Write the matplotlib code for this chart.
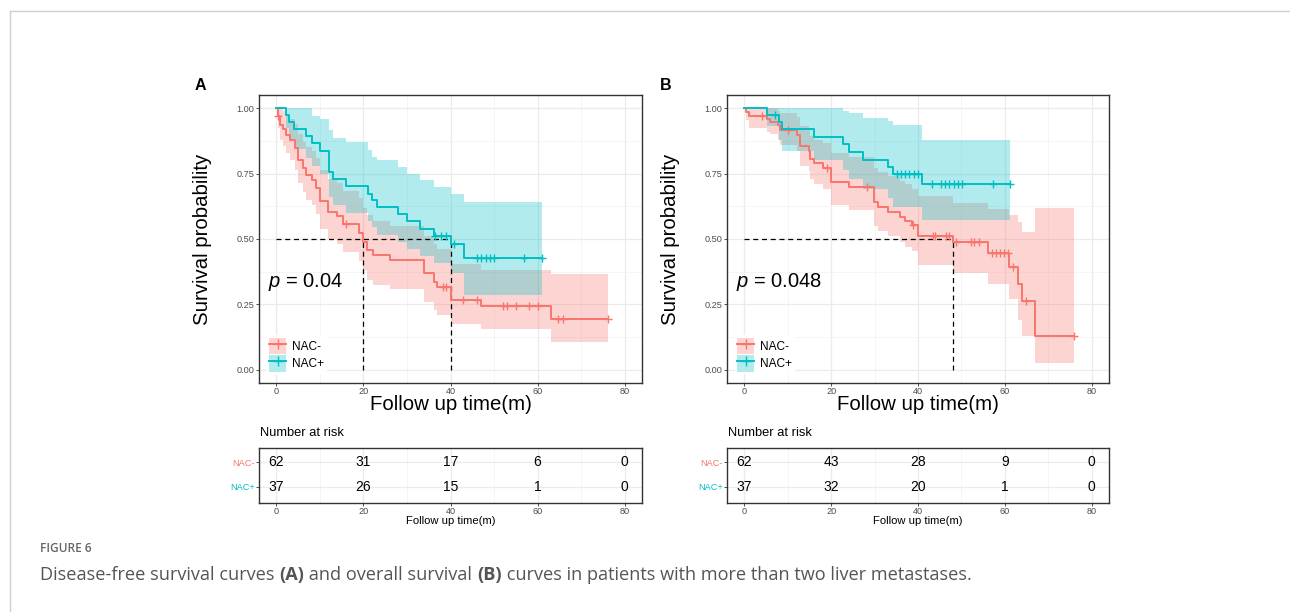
import numpy as np
import matplotlib
matplotlib.use('Agg')
import matplotlib.pyplot as plt
from matplotlib.patches import Patch
from matplotlib.lines import Line2D
from matplotlib.ticker import MultipleLocator

plt.rcParams['font.family'] = ['Liberation Sans', 'DejaVu Sans']
plt.rcParams['mathtext.fontset'] = 'custom'
plt.rcParams['mathtext.it'] = 'Liberation Sans:italic'
plt.rcParams['mathtext.rm'] = 'Liberation Sans'

RED = '#F8766D'
CYAN = '#00BFC4'

############################## panel A: disease-free survival ##############################

a_neg_t = [0, 0.3, 0.8, 1.5, 2.3, 3.1, 4.2, 5.0, 6.1, 6.9, 8.1, 9.2, 10.0, 11.9, 14.0, 15.4,
           19.0, 20.0, 20.7, 22.1, 26.0, 33.8, 36.1, 37.0, 40.0, 47.0, 63.0]
a_neg_s = [1.0, 0.968, 0.937, 0.919, 0.899, 0.878, 0.848, 0.803, 0.771, 0.746, 0.727, 0.695, 0.644,
           0.605, 0.586, 0.557, 0.522, 0.490, 0.457, 0.438, 0.419, 0.372, 0.336, 0.317, 0.268, 0.246, 0.195]
a_neg_lo = [1.0, 0.925, 0.88, 0.855, 0.83, 0.80, 0.765, 0.715, 0.68, 0.65, 0.63, 0.595, 0.54, 0.50,
            0.48, 0.45, 0.415, 0.38, 0.345, 0.325, 0.31, 0.26, 0.23, 0.21, 0.176, 0.157, 0.106]
a_neg_hi = [1.0, 1.0, 1.0, 0.99, 0.975, 0.96, 0.94, 0.90, 0.87, 0.85, 0.835, 0.81, 0.765, 0.73,
            0.715, 0.685, 0.655, 0.62, 0.59, 0.57, 0.55, 0.51, 0.48, 0.46, 0.405, 0.383, 0.368]
a_neg_cens = [0.4, 16.0, 38.3, 39.0, 42.9, 46.0, 52.0, 52.9, 55.1, 58.0, 60.0, 64.8, 65.8, 76.1]

a_pos_t = [0, 2.1, 3.0, 4.0, 6.9, 8.1, 10.0, 12.1, 13.0, 16.0, 21.1, 22.0, 23.0, 28.0, 30.1, 33.0,
           36.1, 40.1, 43.0]
a_pos_s = [1.0, 0.973, 0.946, 0.919, 0.892, 0.865, 0.838, 0.757, 0.730, 0.703, 0.673, 0.648, 0.621,
           0.594, 0.567, 0.540, 0.513, 0.481, 0.429]
a_pos_lo = [1.0, 0.923, 0.88, 0.845, 0.81, 0.78, 0.75, 0.66, 0.63, 0.60, 0.57, 0.545, 0.515, 0.49,
            0.46, 0.435, 0.41, 0.37, 0.287]
a_pos_hi = [1.0, 1.0, 1.0, 1.0, 1.0, 0.97, 0.96, 0.915, 0.885, 0.87, 0.84, 0.815, 0.80, 0.775,
            0.75, 0.725, 0.70, 0.672, 0.64]
a_pos_cens = [36.5, 37.8, 39.0, 40.8, 46.0, 47.0, 48.1, 49.1, 50.0, 57.0, 61.1]

a_medians = [20.0, 40.0]
a_pval = '0.04'
a_risk_neg = [62, 31, 17, 6, 0]
a_risk_pos = [37, 26, 15, 1, 0]

############################## panel B: overall survival ##############################

b_neg_t = [0, 0.3, 1.0, 5.1, 6.0, 7.7, 8.1, 12.1, 12.9, 14.8, 15.2, 16.0, 18.1, 19.9, 24.0, 29.8,
           30.9, 33.0, 35.9, 37.0, 38.6, 39.9, 48.1, 56.1, 61.0, 63.0, 63.9, 67.0]
b_neg_s = [1.0, 0.984, 0.968, 0.958, 0.948, 0.935, 0.917, 0.899, 0.854, 0.838, 0.806, 0.789, 0.770,
           0.719, 0.700, 0.642, 0.623, 0.604, 0.585, 0.569, 0.553, 0.511, 0.487, 0.448, 0.393, 0.327,
           0.263, 0.131]
b_neg_lo = [1.0, 0.955, 0.923, 0.91, 0.90, 0.88, 0.86, 0.835, 0.78, 0.76, 0.73, 0.71, 0.69, 0.63,
            0.61, 0.55, 0.53, 0.51, 0.49, 0.47, 0.455, 0.40, 0.37, 0.33, 0.27, 0.19, 0.13, 0.027]
b_neg_hi = [1.0, 1.0, 1.0, 1.0, 1.0, 0.99, 0.98, 0.965, 0.93, 0.915, 0.895, 0.88, 0.865, 0.83,
            0.815, 0.77, 0.755, 0.74, 0.72, 0.71, 0.69, 0.665, 0.638, 0.614, 0.591, 0.565, 0.527, 0.62]
b_neg_cens = [4.0, 10.0, 19.0, 28.2, 38.9, 43.4, 44.0, 46.5, 47.2, 48.8, 52.1, 53.0, 54.0, 57.1,
              58.0, 59.0, 59.9, 60.7, 62.0, 64.9, 76.0]

b_pos_t = [0, 5.1, 7.9, 8.7, 16.0, 22.8, 24.0, 27.3, 33.0, 34.3, 41.0]
b_pos_s = [1.0, 0.975, 0.946, 0.919, 0.889, 0.861, 0.834, 0.803, 0.774, 0.748, 0.709]
b_pos_lo = [1.0, 0.93, 0.88, 0.835, 0.80, 0.765, 0.73, 0.69, 0.655, 0.623, 0.572]
b_pos_hi = [1.0, 1.0, 1.0, 1.0, 1.0, 0.99, 0.983, 0.962, 0.95, 0.936, 0.879]
b_pos_cens = [7.0, 35.2, 36.1, 37.1, 38.0, 39.0, 39.9, 43.2, 45.2, 46.2, 47.2, 48.2, 49.2, 50.1,
              57.2, 61.1]

b_medians = [48.0]
b_pval = '0.048'
b_risk_neg = [62, 43, 28, 9, 0]
b_risk_pos = [37, 32, 20, 1, 0]

risk_times = [0, 20, 40, 60, 80]
groups = ['NAC-', 'NAC+']

caption_head = 'FIGURE 6'
caption_parts = [('Disease-free survival curves ', 'normal'), ('(A)', 'bold'),
                 (' and overall survival ', 'normal'), ('(B)', 'bold'),
                 (' curves in patients with more than two liver metastases.', 'normal')]


def style_axes(ax):
    ax.set_xlim(-4, 84)
    ax.xaxis.set_major_locator(MultipleLocator(20))
    ax.xaxis.set_minor_locator(MultipleLocator(10))
    ax.grid(which='major', color='#EBEBEB', lw=0.9, zorder=0)
    ax.grid(which='minor', color='#F2F2F2', lw=0.5, zorder=0)
    ax.set_axisbelow(True)
    for sp in ax.spines.values():
        sp.set_color('#333333')
        sp.set_linewidth(1.0)
    ax.tick_params(which='major', length=2.2, width=0.6, color='#333333', pad=1,
                   labelsize=6.6, labelcolor='#4D4D4D')
    ax.tick_params(which='minor', length=0)


def draw_km(ax, t, s, lo, hi, cens, color):
    end = max(cens[-1], t[-1])
    tt = np.append(t, end)
    ss = np.append(s, s[-1])
    ax.fill_between(tt, np.append(lo, lo[-1]), np.append(hi, hi[-1]), step='post',
                    color=color, alpha=0.3, lw=0, zorder=2)
    ax.step(tt, ss, where='post', color=color, lw=1.4, zorder=4)
    idx = np.searchsorted(t, cens, side='right') - 1
    ax.plot(cens, np.array(s)[idx], ls='none', marker='+', ms=6, mew=1.0, color=color, zorder=4)


def km_panel(ax, neg, pos, medians, pval):
    style_axes(ax)
    ax.set_ylim(-0.05, 1.05)
    ax.set_yticks([0, 0.25, 0.5, 0.75, 1.0])
    ax.set_yticklabels(['0.00', '0.25', '0.50', '0.75', '1.00'])
    ax.yaxis.set_minor_locator(MultipleLocator(0.125))
    draw_km(ax, *neg, RED)
    draw_km(ax, *pos, CYAN)
    ax.plot([0, max(medians)], [0.5, 0.5], color='black', ls=(0, (4, 3)), lw=0.9, zorder=3)
    for m in medians:
        ax.plot([m, m], [0, 0.5], color='black', ls=(0, (4, 3)), lw=0.9, zorder=3)
    ax.text(-2.0, 0.335, r'$p$ = ' + pval, fontsize=14.5, ha='left', va='center', zorder=5)
    ax.set_ylabel('Survival probability', fontsize=14.7)
    ax.yaxis.set_label_coords(-0.123, 0.5)
    ax.set_xlabel('Follow up time(m)', fontsize=14.7)
    ax.xaxis.set_label_coords(0.5, -0.095)
    ax.xaxis.label.set_va('baseline')
    handles = [(Patch(facecolor=c, alpha=0.3, edgecolor='none'),
                Line2D([], [], color=c, lw=1.4, marker='+', ms=7, mew=1.0)) for c in (RED, CYAN)]
    leg = ax.legend(handles, groups, loc='lower left', bbox_to_anchor=(0.02, 0.03), fontsize=8.6,
                    frameon=True, fancybox=False, framealpha=1, edgecolor='none', facecolor='white',
                    handlelength=1.45, handleheight=1.8, labelspacing=0.05, handletextpad=0.5,
                    borderpad=0.2, borderaxespad=0)
    leg.set_zorder(6)


def risk_table(ax, neg, pos):
    style_axes(ax)
    ax.set_ylim(0.36, 2.56)
    ax.set_yticks([2, 1])
    ax.set_yticklabels(groups)
    for lab, c in zip(ax.get_yticklabels(), (RED, CYAN)):
        lab.set_color(c)
    for tm, a, b in zip(risk_times, neg, pos):
        ax.text(tm, 2, str(a), ha='center', va='center', fontsize=10)
        ax.text(tm, 1, str(b), ha='center', va='center', fontsize=10)
    ax.set_xlabel('Follow up time(m)', fontsize=8.1)
    ax.xaxis.set_label_coords(0.5, -0.32)
    ax.xaxis.label.set_va('center')
    ax.text(0.003, 1.267, 'Number at risk', transform=ax.transAxes, fontsize=9.3,
            ha='left', va='center')


W, H = 1290, 612
fig = plt.figure(figsize=(W / 100, H / 100), dpi=100)


def px_axes(left, top, right, bottom):
    return fig.add_axes([left / W, 1 - bottom / H, (right - left) / W, (bottom - top) / H])


ax_a = px_axes(259, 95, 642, 383)
ax_b = px_axes(727, 95, 1109, 383)
tab_a = px_axes(259, 448, 642, 503)
tab_b = px_axes(727, 448, 1109, 503)

km_panel(ax_a, (a_neg_t, a_neg_s, a_neg_lo, a_neg_hi, a_neg_cens),
         (a_pos_t, a_pos_s, a_pos_lo, a_pos_hi, a_pos_cens), a_medians, a_pval)
km_panel(ax_b, (b_neg_t, b_neg_s, b_neg_lo, b_neg_hi, b_neg_cens),
         (b_pos_t, b_pos_s, b_pos_lo, b_pos_hi, b_pos_cens), b_medians, b_pval)
risk_table(tab_a, a_risk_neg, a_risk_pos)
risk_table(tab_b, b_risk_neg, b_risk_pos)

fig.text(200 / W, 1 - 85 / H, 'A', fontsize=11.5, weight='bold', ha='center', va='center')
fig.text(666 / W, 1 - 85 / H, 'B', fontsize=11.5, weight='bold', ha='center', va='center')

# page frame lines
fig.add_artist(Line2D([10 / W, 1], [1 - 10.5 / H] * 2, transform=fig.transFigure, color='#D0D0D0', lw=1))
fig.add_artist(Line2D([10 / W] * 2, [0, 1 - 10.5 / H], transform=fig.transFigure, color='#D0D0D0', lw=1))

# caption
fig.text(40 / W, 1 - 548 / H, caption_head, fontsize=8.6, color='#666666', family='Open Sans',
         weight='semibold', ha='left', va='center')
r = fig.canvas.get_renderer()
x = 40 / W
for txt, wt in caption_parts:
    t = fig.text(x, 1 - 575 / H, txt, fontsize=13.1, color='#555555', weight=wt,
                 family='Open Sans', ha='left', va='center')
    x += t.get_window_extent(r).width / W

fig.savefig('out.png', dpi=100)
